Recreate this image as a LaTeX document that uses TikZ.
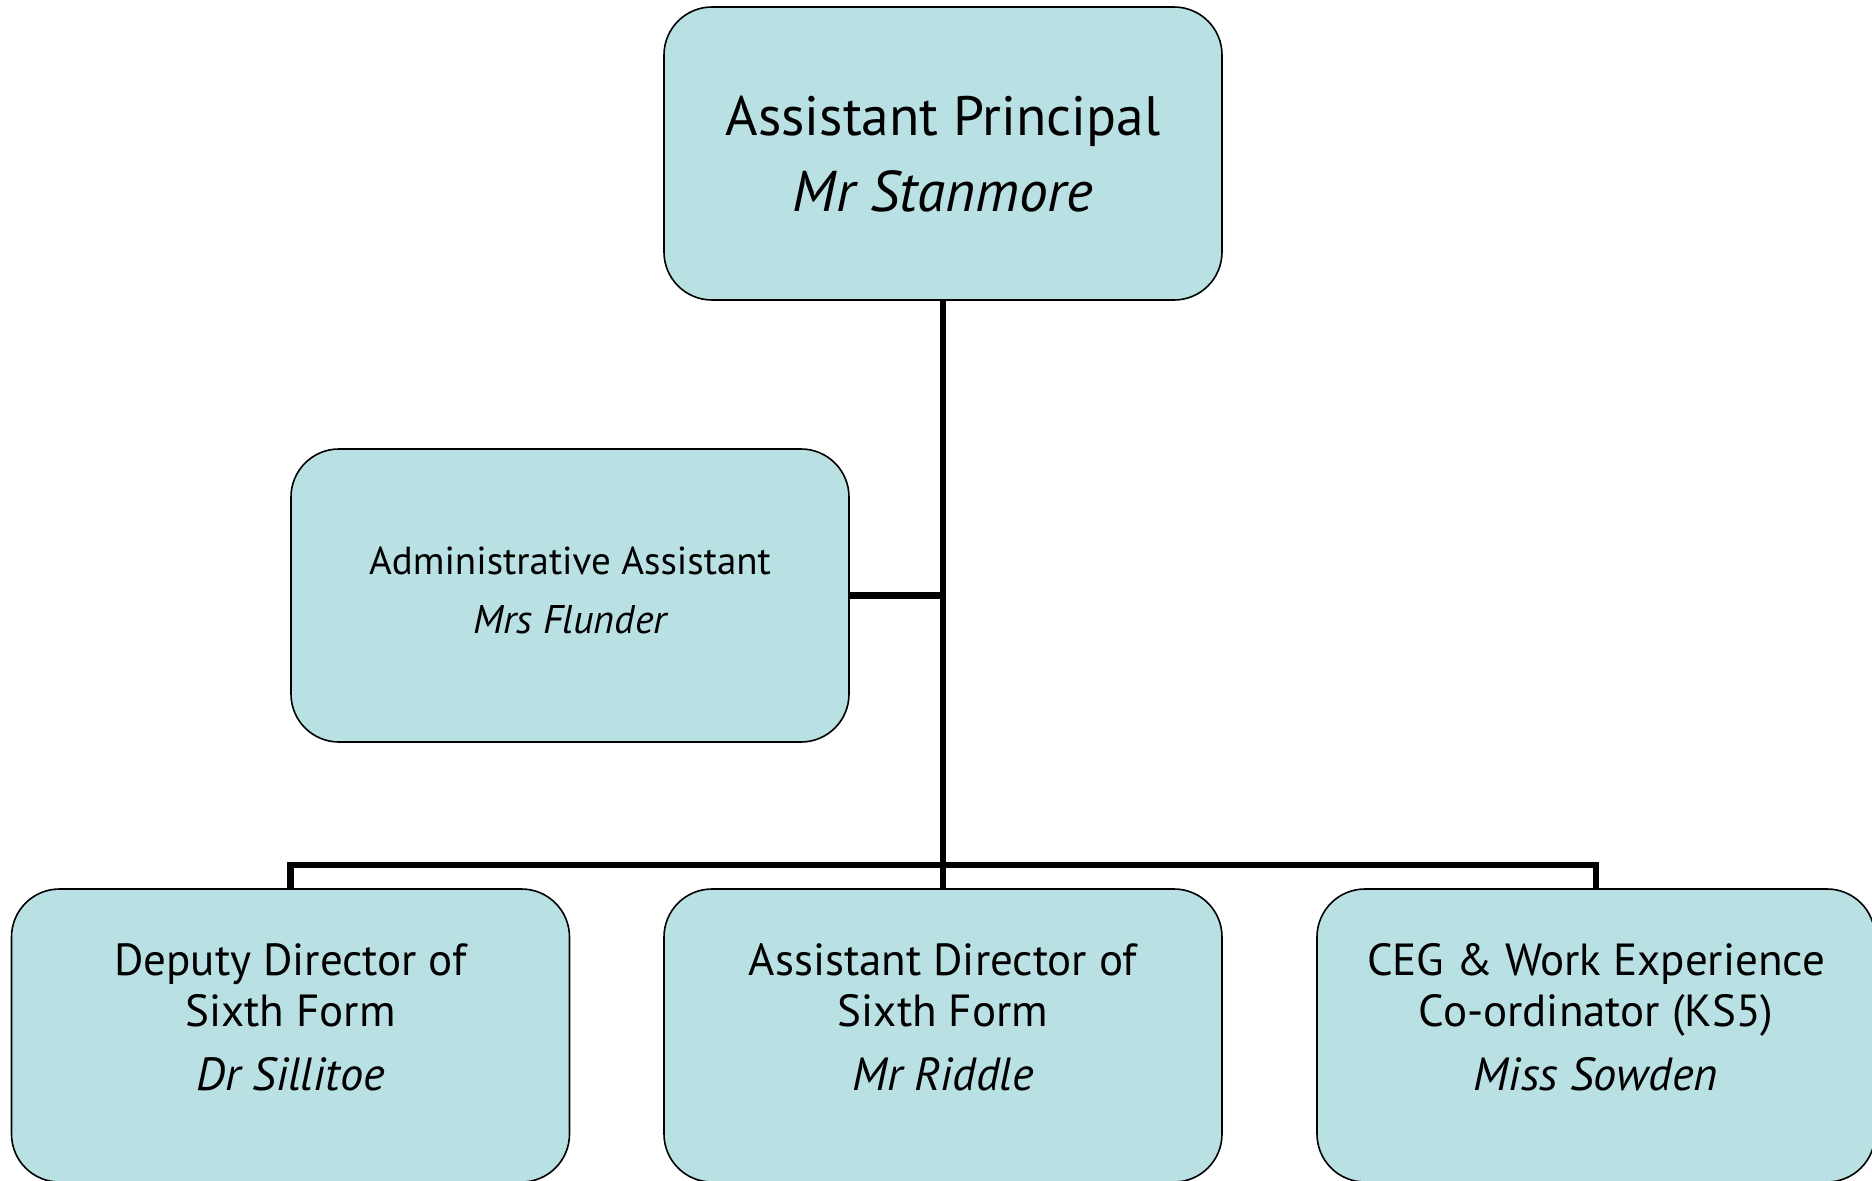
\documentclass[tikz,border=0pt]{standalone}
\usepackage{fontspec}
\setmainfont{PT Sans}
\begin{document}
\begin{tikzpicture}[x=1pt,y=-1pt,
  box/.style={draw=black,line width=1.6pt,fill=boxfill,rounded corners=48pt,
    minimum width=558pt,minimum height=293pt,inner sep=0pt},
  conn/.style={draw=black,line width=6.3pt},
  bigT/.style={anchor=base,inner sep=0pt,font=\fontsize{55.5}{60}\selectfont},
  bigN/.style={anchor=base,inner sep=0pt,font=\fontsize{57.5}{60}\selectfont\itshape},
  admT/.style={anchor=base,inner sep=0pt,font=\fontsize{39}{42}\selectfont},
  admN/.style={anchor=base,inner sep=0pt,font=\fontsize{40}{42}\selectfont\itshape},
  botT/.style={anchor=base,inner sep=0pt,font=\fontsize{45}{48}\selectfont},
  botN/.style={anchor=base,inner sep=0pt,font=\fontsize{46.5}{48}\selectfont\itshape}]
\definecolor{boxfill}{RGB}{185,224,227}
\useasboundingbox (0,0) rectangle (1872,1181);
% boxes
\node[box] (ap) at (943,153.5) {};
\node[box] (adm) at (570,595.5) {};
\node[box] (dd) at (290.5,1035.5) {};
\node[box] (ad) at (943,1035.5) {};
\node[box] (ceg) at (1596,1035.5) {};
% connector points
\coordinate (jadm) at (943,595.5);
\coordinate (jbar) at (943,865);
\coordinate (jl) at (290.5,865);
\coordinate (jr) at (1596,865);
\draw[conn] (ap.south) -- (jbar);
\draw[conn] (adm.east) -- (jadm);
\draw[conn,line cap=rect] (jl) -- (jr);
\draw[conn] (jl) -- (dd.north);
\draw[conn] (jbar) -- (ad.north);
\draw[conn] (jr) -- (ceg.north);
% texts
\node[bigT] (apT) at (943,135) {Assistant Principal};
\node[bigN] (apN) at (943,211) {Mr Stanmore};
\node[admT] (admT1) at (570,574) {Administrative Assistant};
\node[admN] (admN1) at (570,633) {Mrs Flunder};
\node[botT] (ddT1) at (290.5,975) {Deputy Director of};
\node[botT] (ddT2) at (290.5,1026) {Sixth Form};
\node[botN] (ddN) at (290.5,1090) {Dr Sillitoe};
\node[botT] (adT1) at (943,975) {Assistant Director of};
\node[botT] (adT2) at (943,1026) {Sixth Form};
\node[botN] (adN) at (943,1090) {Mr Riddle};
\node[botT] (cegT1) at (1596,975) {CEG \& Work Experience};
\node[botT] (cegT2) at (1596,1026) {Co-ordinator (KS5)};
\node[botN] (cegN) at (1596,1090) {Miss Sowden};
\end{tikzpicture}
\end{document}
